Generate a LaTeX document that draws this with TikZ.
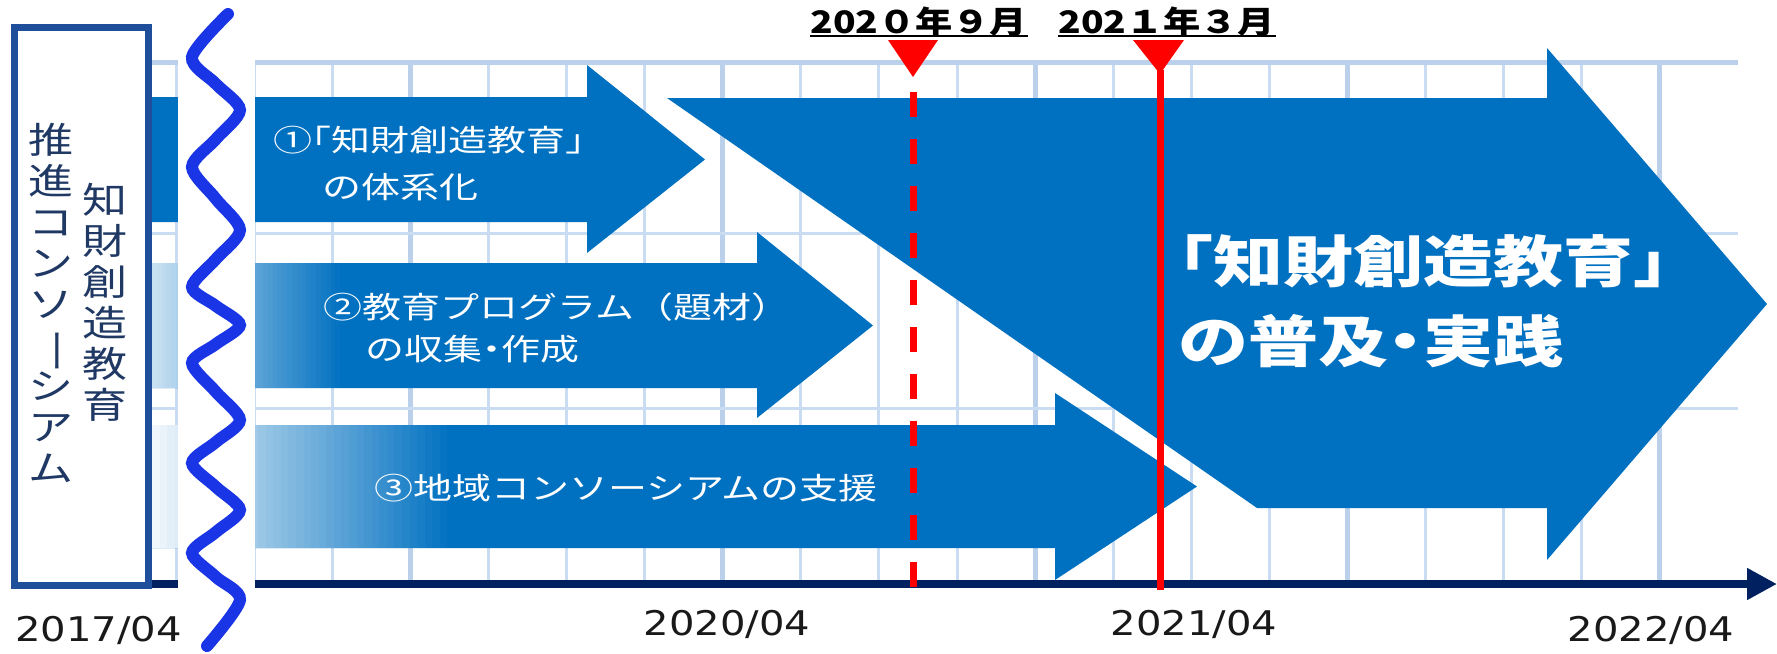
\documentclass[tikz,border=0pt]{standalone}
\usepackage{fontspec}
\usepackage{graphicx}
\usetikzlibrary{arrows.meta}
\newfontfamily\jpf[FakeStretch=1.3]{Noto Sans CJK JP}
\newfontfamily\jpv[FakeStretch=1.25]{Noto Sans CJK JP}
\newfontfamily\jpbig[FakeStretch=1.25]{Noto Sans CJK JP}
\newfontfamily\jpdate[FakeStretch=1.2]{Noto Sans CJK JP}
\newfontfamily\dvs[FakeStretch=1.18]{DejaVu Sans}
\newcommand\halfw[1]{{\addfontfeatures{RawFeature=+halt}#1}}
\definecolor{arrowblue}{HTML}{0070C0}
\definecolor{gridblue}{HTML}{CADCF1}
\definecolor{gridthk}{HTML}{BBD0EA}
\definecolor{axisnavy}{HTML}{002060}
\definecolor{wavecol}{HTML}{1A35E6}
\definecolor{boxblue}{HTML}{1F4E9B}
\definecolor{boxtext}{HTML}{1F3864}
\definecolor{mred}{HTML}{FF0000}
\begin{document}
\begin{tikzpicture}[x=0.5pt,y=-0.5pt,
  gridthin/.style={draw=gridblue,line width=1.5pt},
  gridthick/.style={draw=gridthk,line width=2.5pt},
  arrowshape/.style={fill=arrowblue},
  smalltxt/.style={text=white,font=\jpf\fontsize{15}{18}\selectfont,inner sep=0pt,anchor=base west},
  bigtxt/.style={text=white,font=\jpbig\bfseries\fontsize{28}{34}\selectfont,inner sep=0pt,anchor=base west},
  datetxt/.style={text=black,font=\jpdate\bfseries\fontsize{15.5}{18}\selectfont,inner sep=0pt,anchor=base west},
  axistxt/.style={text=black!90,font=\dvs\fontsize{17}{20}\selectfont,inner sep=0pt,anchor=base},
  vtxt/.style={text=boxtext,font=\jpv\fontsize{18}{20.5}\selectfont,align=center,inner sep=0pt,anchor=north},
  marker/.style={draw=mred,line width=3.5pt},
  uline/.style={draw=black,line width=1pt},
]
\useasboundingbox (0,0) rectangle (1777,653);
% grid
\foreach \k in {0,1,2,4,5,6,8,9,10,12,13,14,16,17,18}
  \draw[gridthin] ({176+78.1*\k},62) -- ({176+78.1*\k},584);
\foreach \k in {3,7,11,15,19}
  \draw[gridthick] ({176+78.1*\k},62) -- ({176+78.1*\k},584);
\draw[gridthin] (152,233) -- (1738,233);
\draw[gridthin] (152,408) -- (1738,408);
\draw[gridthick] (152,62) -- (1738,62);
% arrows
\path[arrowshape] (152,97) -- (587,97) -- (587,65) -- (705,159.5) -- (587,253) -- (587,222) -- (152,222) -- cycle;
\path[arrowshape] (152,263) -- (757,263) -- (757,232) -- (873,325.5) -- (757,418) -- (757,388) -- (152,388) -- cycle;
\foreach \i in {0,...,39} {
  \pgfmathsetmacro\pp{22+78*\i/39}
  \fill[arrowblue!\pp!white] ({152+\i*4.825},263) rectangle ({152+(\i+1)*4.825+0.6},388);
}
\path[arrowshape] (152,425) -- (1055,425) -- (1055,393) -- (1197,486.5) -- (1055,580) -- (1055,548) -- (152,548) -- cycle;
\foreach \i in {0,...,39} {
  \pgfmathsetmacro\pp{6+94*\i/39}
  \fill[arrowblue!\pp!white] ({152+\i*7.575},425) rectangle ({152+(\i+1)*7.575+0.6},548);
}
\path[arrowshape] (667,98) -- (1547,98) -- (1547,48) -- (1767,304) -- (1547,560) -- (1547,508) -- (1257,508) -- cycle;
% axis
\fill[axisnavy] (152,580) rectangle (178,588);
\coordinate (axs) at (255,584);
\coordinate (axe) at (1777,584);
\draw[axisnavy,line width=4pt,-{Triangle[length=15pt,width=15pt]}] (axs) -- (axe);
% break strip and wave
\fill[white] (178,0) rectangle (255,653);
\draw[wavecol,line width=6pt,line cap=round] plot[smooth] coordinates {
 (228,14) (192,57) (216,84) (240,110) (216,139) (192,167) (216,199) (240,230)
 (216,259) (192,287) (216,306) (240,325) (216,344) (192,363) (216,392) (240,420)
 (216,442) (192,463) (216,487) (240,510) (216,532) (192,553) (216,577) (240,600) (207,646)};
% box
\node[draw=boxblue,line width=3.5pt,fill=white,minimum width=67pt,minimum height=279pt,inner sep=0pt] (box) at (81.5,306.5) {};
\node[vtxt] (vt1) at (51,123) {推\\進\\コ\\ン\\ソ\\\smash{\rotatebox[origin=c]{-90}{ー}}\\シ\\ア\\ム};
\node[vtxt] (vt2) at (105,183) {知\\財\\創\\造\\教\\育};
% markers
\fill[mred] (888,40) -- (938,40) -- (913,77) -- cycle;
\fill[mred] (1133,40) -- (1184,40) -- (1160,74) -- cycle;
\coordinate (m1a) at (913,92);
\coordinate (m1b) at (913,587);
\draw[marker,dash pattern=on 12.5pt off 11pt] (m1a) -- (m1b);
\coordinate (m2a) at (1160,70);
\coordinate (m2b) at (1160,590);
\draw[marker] (m2a) -- (m2b);
% dates
\node[datetxt] (d1) at (810,33) {202０年９月};
\node[datetxt] (d2) at (1058,33) {202１年３月};
\draw[uline] (d1.south west) -- (d1.south east);
\draw[uline] (d2.south west) -- (d2.south east);
% arrow texts
\node[smalltxt] (t1a) at (273,151) {①\halfw{「}知財創造教育\halfw{」}};
\node[smalltxt] (t1b) at (322,198) {の体系化};
\node[smalltxt] (t2a) at (323,318) {②教育プログラム（題材）};
\node[smalltxt] (t2b) at (365,360) {の収集\halfw{・}作成};
\node[smalltxt] (t3) at (374,499) {③地域コンソーシアムの支援};
\node[bigtxt] (b1) at (1178,282) {\halfw{「}知財創造教育\halfw{」}};
\node[bigtxt] (b2) at (1178,362) {の普及\halfw{・}実践};
% axis labels
\node[axistxt] (l17) at (98.5,641) {2017/04};
\node[axistxt] (l20) at (727,635) {2020/04};
\node[axistxt] (l21) at (1194,635) {2021/04};
\node[axistxt] (l22) at (1651,641) {2022/04};
\end{tikzpicture}
\end{document}
